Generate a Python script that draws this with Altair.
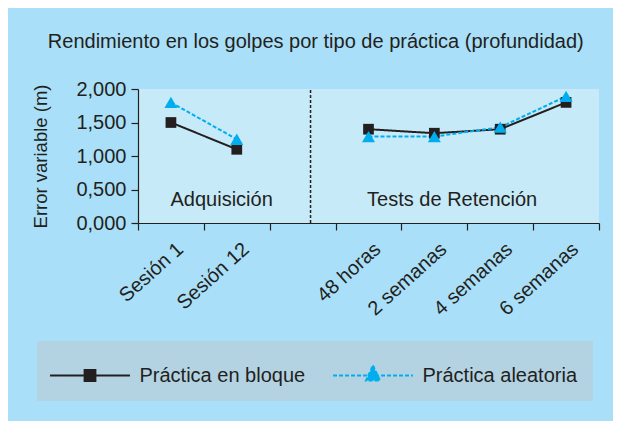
import altair as alt
import pandas as pd

# ---- data ----
categories = ["Sesión 1", "Sesión 12", " ", "48 horas", "2 semanas", "4 semanas", "6 semanas"]
phases = ["Adquisición", "Adquisición", None, "Retención", "Retención", "Retención", "Retención"]
series_names = ["Práctica en bloque", "Práctica aleatoria"]
block_values = [1.50, 1.10, None, 1.40, 1.34, 1.40, 1.80]
random_values = [1.80, 1.25, None, 1.29, 1.29, 1.43, 1.89]
y_ticks = [0.0, 0.5, 1.0, 1.5, 2.0]
title_text = "Rendimiento en los golpes por tipo de práctica (profundidad)"
y_title = "Error variable (m)"
phase_labels = ["Adquisición", "Tests de Retención"]
phase_label_cats = ["Sesión 12", "2 semanas"]

# marker style per series
MARKERS = {series_names[0]: "square", series_names[1]: "triangle-up"}
MARKER_SIZES = {series_names[0]: 115, series_names[1]: 170}

rows = []
for name, vals in zip(series_names, [block_values, random_values]):
    for c, p, v in zip(categories, phases, vals):
        if v is not None:
            rows.append({"cat": c, "phase": p, "series": name, "value": v,
                         "marker": MARKERS[name], "msize": MARKER_SIZES[name]})
df = pd.DataFrame(rows)

FONT = "Liberation Sans"
INK = "#231f20"
CYAN = "#00aeef"

x_scale = alt.Scale(domain=categories, type="band", paddingInner=0, paddingOuter=0)
y_scale = alt.Scale(domain=[0, 2])
x_axis = alt.Axis(
    title=None, labelAngle=-42, labelAlign="right", labelBaseline="middle",
    labelFontSize=20, labelFont=FONT, labelColor=INK, labelPadding=16, labelOffset=9,
    tickBand="extent", tickSize=7, tickColor=INK, domainColor=INK, tickWidth=1.2, domainWidth=1.2,
    grid=False,
)
y_axis = alt.Axis(
    title=y_title, values=y_ticks, labelOverlap=False,
    labelExpr="replace(format(datum.value, '.3f'), '.', ',')",
    labelFontSize=20, labelFont=FONT, labelColor=INK, labelPadding=5,
    tickSize=7, tickColor=INK, domainColor=INK, tickWidth=1.2, domainWidth=1.2,
    titleFontSize=18.5, titleFont=FONT, titleColor=INK, titleFontWeight="normal", titlePadding=25,
    grid=False,
)
X = alt.X("cat:N", scale=x_scale, axis=x_axis, sort=categories)
Y = alt.Y("value:Q", scale=y_scale, axis=y_axis)

# legend glyphs: a line with the series marker in the middle (unit = 18 px)
sq_path = "M-2.22,0H2.22M-0.3,-0.3H0.3V0.3H-0.3Z"
tri_path = "M-2.22,0H2.22M0,-0.56L0.39,0.28H-0.39Z"
is_block = f"datum.value === '{series_names[0]}'"

legend = alt.Legend(
    orient="none", legendX=-101, legendY=252, direction="horizontal", columns=2,
    title=None, fillColor="#b3d3e3", padding=15.5, symbolSize=1296, labelLimit=0,
    labelFontSize=20, labelFont=FONT, labelColor=INK,
    symbolOffset=18.5, labelOffset=30.5, columnPadding=23,
    symbolStrokeWidth=2, symbolOpacity=1,
    symbolType={"expr": f"{is_block} ? '{sq_path}' : '{tri_path}'"},
    symbolFillColor={"expr": f"{is_block} ? '{INK}' : '{CYAN}'"},
    symbolStrokeColor={"expr": f"{is_block} ? '{INK}' : '{CYAN}'"},
    symbolDash={"expr": f"{is_block} ? [1, 0] : [4, 2]"},
)
color_scale = alt.Scale(domain=series_names, range=[INK, CYAN])

base = alt.Chart(df)
lines = base.mark_line(strokeWidth=2).encode(
    x=X, y=Y,
    color=alt.Color("series:N", scale=color_scale, legend=legend),
    detail="phase:N",
    strokeDash=alt.StrokeDash("series:N", scale=alt.Scale(domain=series_names, range=[[1, 0], [4, 2]]), legend=None),
)
points = base.mark_point(filled=True, opacity=1).encode(
    x=X, y=Y,
    color=alt.Color("series:N", scale=color_scale, legend=None),
    shape=alt.Shape("marker:N", scale=None),
    size=alt.Size("msize:Q", scale=None),
)

divider = alt.Chart(pd.DataFrame({"cat": [categories[2]]})).mark_rule(
    color=INK, strokeDash=[3, 2], strokeWidth=1.5
).encode(
    x=alt.X("cat:N", bandPosition=0.62),
    y=alt.Y(datum=0, scale=y_scale, axis=y_axis), y2=alt.datum(2),
)

ann1 = alt.Chart(pd.DataFrame({"cat": [phase_label_cats[0]], "label": [phase_labels[0]]})).mark_text(
    fontSize=20, font=FONT, color=INK
).encode(x=alt.X("cat:N", bandPosition=0.27), y=alt.Y(datum=0.34, scale=y_scale, axis=y_axis), text="label:N")
ann2 = alt.Chart(pd.DataFrame({"cat": [phase_label_cats[1]], "label": [phase_labels[1]]})).mark_text(
    fontSize=20, font=FONT, color=INK
).encode(x=alt.X("cat:N", bandPosition=0.77), y=alt.Y(datum=0.34, scale=y_scale, axis=y_axis), text="label:N")

chart = alt.layer(lines, points, divider, ann1, ann2).properties(
    width=461, height=134,
    autosize=alt.AutoSizeParams(type="none"),
    padding={"left": 130, "top": 81, "right": 14, "bottom": 198},
    background="#a9dff8",
    title=alt.TitleParams(
        text=title_text, fontSize=20, font=FONT, color=INK, fontWeight="normal",
        anchor="middle", frame="bounds", offset=27,
    ),
).configure_view(fill="#c7eaf9", strokeWidth=0)

chart.save("out.html", embed_options={"renderer": "svg", "actions": False})
